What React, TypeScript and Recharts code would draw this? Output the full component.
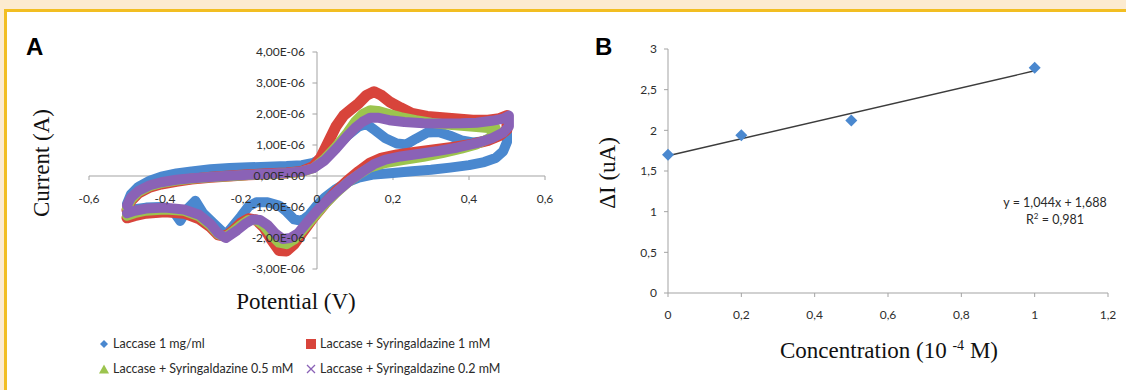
import React from 'react';
import {
  LineChart,
  Line,
  XAxis,
  YAxis,
  ReferenceLine,
  ReferenceDot,
  ComposedChart,
  Scatter,
} from 'recharts';

// ---- Panel A: cyclic voltammograms, [potential V, current in 1e-6 A] ----
const cvLaccase: [number, number][] = [
  [-0.5, -0.9], [-0.49, -0.6], [-0.47, -0.35], [-0.44, -0.15], [-0.41, -0.02], [-0.37, 0.08],
  [-0.33, 0.15], [-0.28, 0.22], [-0.23, 0.26], [-0.18, 0.28], [-0.13, 0.3], [-0.08, 0.32],
  [-0.04, 0.35], [-0.01, 0.42], [0.02, 0.62], [0.05, 0.95], [0.08, 1.3], [0.11, 1.6],
  [0.13, 1.68], [0.15, 1.5], [0.18, 1.22], [0.21, 1.05], [0.235, 1.02], [0.26, 1.2],
  [0.29, 1.4], [0.32, 1.42], [0.35, 1.3], [0.38, 1.15], [0.41, 1.08], [0.44, 1.12],
  [0.47, 1.25], [0.5, 1.45],
  [0.5, 1.1], [0.49, 0.8], [0.47, 0.58], [0.44, 0.45], [0.4, 0.35], [0.35, 0.27],
  [0.3, 0.2], [0.25, 0.15], [0.2, 0.1], [0.15, 0.05], [0.11, -0.05], [0.08, -0.2],
  [0.05, -0.42], [0.02, -0.7], [0.0, -0.95], [-0.02, -1.25], [-0.04, -1.45], [-0.06, -1.4],
  [-0.08, -1.15], [-0.1, -0.95], [-0.13, -0.85], [-0.16, -0.85], [-0.18, -0.98], [-0.2, -1.3],
  [-0.22, -1.6], [-0.24, -1.9], [-0.27, -1.55], [-0.3, -1.2], [-0.32, -0.8], [-0.34, -1.05],
  [-0.36, -1.45], [-0.38, -1.1], [-0.41, -1.0], [-0.45, -1.02], [-0.5, -1.1],
];

const cvSyr1: [number, number][] = [
  [-0.5, -1.1], [-0.49, -0.8], [-0.47, -0.55], [-0.44, -0.36], [-0.41, -0.26], [-0.37, -0.17],
  [-0.33, -0.1], [-0.28, -0.04], [-0.23, 0.0], [-0.18, 0.04], [-0.13, 0.07], [-0.08, 0.1],
  [-0.04, 0.15], [-0.01, 0.3], [0.01, 0.6], [0.03, 1.1], [0.05, 1.6], [0.07, 1.95],
  [0.09, 2.15], [0.11, 2.35], [0.13, 2.6], [0.15, 2.72], [0.17, 2.6], [0.19, 2.4],
  [0.22, 2.2], [0.25, 2.02], [0.29, 1.92], [0.33, 1.88], [0.37, 1.84], [0.41, 1.8],
  [0.45, 1.8], [0.48, 1.85], [0.5, 1.95],
  [0.5, 1.5], [0.48, 1.3], [0.45, 1.15], [0.41, 1.03], [0.36, 0.93], [0.31, 0.85],
  [0.26, 0.77], [0.21, 0.68], [0.17, 0.58], [0.14, 0.42], [0.11, 0.15], [0.08, -0.15],
  [0.05, -0.5], [0.02, -0.9], [-0.01, -1.35], [-0.04, -1.85], [-0.06, -2.2], [-0.08, -2.42],
  [-0.1, -2.4], [-0.12, -2.05], [-0.14, -1.65], [-0.16, -1.42], [-0.18, -1.38], [-0.2, -1.52],
  [-0.22, -1.75], [-0.24, -1.95], [-0.26, -1.9], [-0.28, -1.65], [-0.31, -1.38], [-0.35, -1.2],
  [-0.4, -1.15], [-0.45, -1.2], [-0.48, -1.28], [-0.5, -1.35],
];

const cvSyr05: [number, number][] = [
  [-0.5, -1.05], [-0.49, -0.78], [-0.47, -0.52], [-0.44, -0.33], [-0.41, -0.23], [-0.37, -0.15],
  [-0.33, -0.09], [-0.28, -0.04], [-0.23, -0.01], [-0.18, 0.03], [-0.13, 0.06], [-0.08, 0.09],
  [-0.04, 0.14], [-0.01, 0.25], [0.02, 0.55], [0.05, 0.95], [0.08, 1.4], [0.1, 1.75],
  [0.12, 2.0], [0.14, 2.12], [0.16, 2.1], [0.19, 2.0], [0.22, 1.9], [0.26, 1.8],
  [0.3, 1.72], [0.34, 1.66], [0.38, 1.62], [0.42, 1.58], [0.45, 1.55], [0.47, 1.55],
  [0.47, 1.4], [0.45, 1.2], [0.42, 1.02], [0.38, 0.88], [0.33, 0.74], [0.28, 0.62],
  [0.23, 0.52], [0.18, 0.42], [0.14, 0.28], [0.11, 0.05], [0.08, -0.22], [0.05, -0.55],
  [0.02, -0.92], [-0.01, -1.35], [-0.04, -1.78], [-0.06, -2.05], [-0.08, -2.2], [-0.1, -2.15],
  [-0.12, -1.9], [-0.14, -1.6], [-0.16, -1.42], [-0.18, -1.42], [-0.2, -1.58], [-0.22, -1.78],
  [-0.24, -1.97], [-0.26, -1.88], [-0.28, -1.6], [-0.31, -1.3], [-0.35, -1.12], [-0.4, -1.08],
  [-0.45, -1.12], [-0.48, -1.2], [-0.5, -1.28],
];

const cvSyr02: [number, number][] = [
  [-0.5, -0.95], [-0.49, -0.7], [-0.47, -0.48], [-0.44, -0.3], [-0.41, -0.2], [-0.37, -0.12],
  [-0.33, -0.07], [-0.28, -0.03], [-0.23, 0.01], [-0.18, 0.04], [-0.13, 0.07], [-0.08, 0.1],
  [-0.04, 0.15], [-0.01, 0.25], [0.02, 0.5], [0.05, 0.88], [0.08, 1.3], [0.1, 1.55],
  [0.12, 1.75], [0.14, 1.88], [0.16, 1.88], [0.19, 1.8], [0.23, 1.74], [0.28, 1.7],
  [0.33, 1.69], [0.38, 1.7], [0.42, 1.72], [0.46, 1.78], [0.49, 1.85], [0.505, 1.95],
  [0.505, 1.6], [0.49, 1.4], [0.46, 1.22], [0.42, 1.06], [0.37, 0.92], [0.32, 0.81],
  [0.27, 0.72], [0.22, 0.63], [0.18, 0.53], [0.15, 0.38], [0.12, 0.14], [0.09, -0.12],
  [0.06, -0.42], [0.03, -0.75], [0.0, -1.12], [-0.03, -1.55], [-0.05, -1.85], [-0.07, -2.0],
  [-0.09, -2.03], [-0.11, -1.85], [-0.13, -1.58], [-0.15, -1.42], [-0.17, -1.4], [-0.19, -1.55],
  [-0.21, -1.75], [-0.24, -2.0], [-0.26, -1.85], [-0.28, -1.55], [-0.31, -1.25], [-0.35, -1.08],
  [-0.4, -1.02], [-0.45, -1.05], [-0.48, -1.12], [-0.5, -1.2],
];

const potentialTicks = [-0.6, -0.4, -0.2, 0, 0.2, 0.4, 0.6];
const currentTicks = [-3, -2, -1, 0, 1, 2, 3, 4];
const currentTickLabels = ['-3,00E-06', '-2,00E-06', '-1,00E-06', '0,00E+00', '1,00E-06', '2,00E-06', '3,00E-06', '4,00E-06'];

// ---- Panel B: calibration ----
const concentrations = [0, 0.2, 0.5, 1];
const deltaI = [1.7, 1.94, 2.12, 2.77];
const trendX = [0, 1];
const trendY = [1.688, 2.732];
const concTicks = [0, 0.2, 0.4, 0.6, 0.8, 1, 1.2];
const deltaTicks = [0, 0.5, 1, 1.5, 2, 2.5, 3];

const BLUE = '#4a88cf';
const RED = '#d8443b';
const GREEN = '#9cc44e';
const PURPLE = '#8a62b6';
const AXIS = '#a3a3a3';
const TICK_TEXT = '#2e2e2e';
const SANS = 'Lato, "Open Sans", sans-serif';
const SERIF = '"Liberation Serif", "DejaVu Serif", serif';
const TICK_SIZE = 12;

const comma = (n: number) => String(n).replace('.', ',');
const toPts = (arr: [number, number][]) => arr.map(([v, i]) => ({ v, i }));

const cvSeries = [
  { name: 'Laccase 1 mg/ml', data: cvLaccase, color: BLUE, width: 10 },
  { name: 'Laccase + Syringaldazine 1 mM', data: cvSyr1, color: RED, width: 11 },
  { name: 'Laccase + Syringaldazine 0.5 mM', data: cvSyr05, color: GREEN, width: 10 },
  { name: 'Laccase + Syringaldazine 0.2 mM', data: cvSyr02, color: PURPLE, width: 10 },
];

function PanelA() {
  return (
    <LineChart width={560} height={280} margin={{ top: 52, right: 15, bottom: 11, left: 89 }}>
      <XAxis dataKey="v" type="number" domain={[-0.6, 0.6]} hide allowDuplicatedCategory={false} />
      <YAxis dataKey="i" type="number" domain={[-3, 4]} hide />
      <ReferenceLine y={0} stroke={AXIS} strokeWidth={1} />
      <ReferenceLine x={0} stroke={AXIS} strokeWidth={1} />
      {potentialTicks.map((t) => (
        <ReferenceLine key={'xt' + t} segment={[{ x: t, y: 0 }, { x: t, y: -0.13 }]} stroke={AXIS} />
      ))}
      {currentTicks.map((t) => (
        <ReferenceLine key={'yt' + t} segment={[{ x: 0, y: t }, { x: -0.012, y: t }]} stroke={AXIS} />
      ))}
      {cvSeries.map((s) => (
        <Line
          key={s.name}
          data={toPts(s.data)}
          dataKey="i"
          stroke={s.color}
          strokeWidth={s.width}
          strokeLinejoin="round"
          strokeLinecap="round"
          dot={false}
          type="linear"
          isAnimationActive={false}
        />
      ))}
      {potentialTicks.map((t) => (
        <ReferenceDot
          key={'xl' + t}
          x={t}
          y={0}
          r={0}
          fill="none"
          stroke="none"
          label={{ value: comma(t), position: 'bottom', offset: 18, fill: TICK_TEXT, fontSize: TICK_SIZE, fontFamily: SANS }}
        />
      ))}
      {currentTicks.map((t, k) => (
        <ReferenceDot
          key={'yl' + t}
          x={0}
          y={t}
          r={0}
          fill="none"
          stroke="none"
          label={{ value: currentTickLabels[k], position: 'left', offset: 12, fill: TICK_TEXT, fontSize: TICK_SIZE, fontFamily: SANS }}
        />
      ))}
    </LineChart>
  );
}

const Diamond = (props: any) => {
  const { cx, cy } = props;
  if (cx == null || cy == null) return null;
  const r = 6;
  return <polygon points={`${cx},${cy - r} ${cx + r},${cy} ${cx},${cy + r} ${cx - r},${cy}`} fill={BLUE} />;
};

function PanelB() {
  const points = concentrations.map((x, k) => ({ x, y: deltaI[k] }));
  const trend = trendX.map((x, k) => ({ x, y: trendY[k] }));
  return (
    <ComposedChart width={566} height={340} margin={{ top: 49, right: 18, bottom: 17, left: 78 }}>
      <XAxis
        dataKey="x"
        type="number"
        domain={[0, 1.2]}
        ticks={concTicks}
        tickFormatter={comma}
        stroke={AXIS}
        tickSize={4}
        tickMargin={13}
        height={30}
        tick={{ fill: TICK_TEXT, fontSize: TICK_SIZE, fontFamily: SANS }}
      />
      <YAxis
        dataKey="y"
        type="number"
        domain={[0, 3]}
        ticks={deltaTicks}
        tickFormatter={comma}
        stroke={AXIS}
        tickSize={4}
        tickMargin={7}
        width={30}
        tick={{ fill: TICK_TEXT, fontSize: TICK_SIZE, fontFamily: SANS }}
      />
      <Line data={trend} dataKey="y" stroke="#3c3c3c" strokeWidth={1.4} dot={false} isAnimationActive={false} />
      <Scatter data={points} dataKey="y" shape={Diamond} isAnimationActive={false} />
    </ComposedChart>
  );
}

const LegendItem = ({ marker, text, left, top }: { marker: React.ReactNode; text: string; left: number; top: number }) => (
  <div style={{ position: 'absolute', left, top, display: 'flex', alignItems: 'center', fontFamily: SANS, fontSize: 12.5, color: '#2a2a2a', whiteSpace: 'nowrap', lineHeight: '15px' }}>
    <svg width={12} height={12} style={{ marginRight: 3 }}>{marker}</svg>
    {text}
  </div>
);

export default function App() {
  return (
    <div style={{ position: 'fixed', left: 0, top: 0, width: 1126, height: 390, background: '#fcebd0', overflow: 'hidden' }}>
      <div style={{ position: 'absolute', left: 4, top: 9, width: 1200, height: 400, background: '#fff', borderTop: '3px solid #f2be22', borderLeft: '3px solid #f2be22' }} />
      <div style={{ position: 'absolute', left: 0, top: 0 }}>
        <PanelA />
      </div>
      <div style={{ position: 'absolute', left: 560, top: 0 }}>
        <PanelB />
      </div>

      <div style={{ position: 'absolute', left: 26, top: 33, fontFamily: '"Liberation Sans", Arial, sans-serif', fontWeight: 700, fontSize: 24 }}>A</div>
      <div style={{ position: 'absolute', left: 595, top: 33, fontFamily: '"Liberation Sans", Arial, sans-serif', fontWeight: 700, fontSize: 24 }}>B</div>

      <div style={{ position: 'absolute', left: 42, top: 163, transform: 'translate(-50%, -50%) rotate(-90deg)', fontFamily: SERIF, fontSize: 23, whiteSpace: 'nowrap', color: '#111' }}>Current (A)</div>
      <div style={{ position: 'absolute', left: 296, top: 302, transform: 'translate(-50%, -50%)', fontFamily: SERIF, fontSize: 23, whiteSpace: 'nowrap', color: '#111' }}>Potential (V)</div>
      <div style={{ position: 'absolute', left: 608, top: 173, transform: 'translate(-50%, -50%) rotate(-90deg)', fontFamily: SERIF, fontSize: 23, whiteSpace: 'nowrap', color: '#111' }}>ΔI (uA)</div>
      <div style={{ position: 'absolute', left: 889, top: 351, transform: 'translate(-50%, -50%)', fontFamily: SERIF, fontSize: 23, whiteSpace: 'nowrap', color: '#111' }}>
        Concentration (10 <sup style={{ fontSize: 14 }}>-4</sup> M)
      </div>

      <div style={{ position: 'absolute', left: 1055, top: 202, transform: 'translate(-50%, -50%)', fontFamily: SANS, fontSize: 12.5, color: '#2a2a2a', whiteSpace: 'nowrap' }}>y = 1,044x + 1,688</div>
      <div style={{ position: 'absolute', left: 1055, top: 219, transform: 'translate(-50%, -50%)', fontFamily: SANS, fontSize: 12.5, color: '#2a2a2a', whiteSpace: 'nowrap' }}>
        R<sup style={{ fontSize: 8 }}>2</sup> = 0,981
      </div>

      <LegendItem left={98} top={336} text="Laccase 1 mg/ml" marker={<polygon points="6,2 10,6 6,10 2,6" fill={BLUE} />} />
      <LegendItem left={305} top={336} text="Laccase + Syringaldazine 1 mM" marker={<rect x={1} y={1} width={10} height={10} fill={RED} />} />
      <LegendItem left={98} top={361} text="Laccase + Syringaldazine 0.5 mM" marker={<polygon points="6,1.5 11,10.5 1,10.5" fill={GREEN} />} />
      <LegendItem left={305} top={361} text="Laccase + Syringaldazine 0.2 mM" marker={<path d="M2,2 L10,10 M10,2 L2,10" stroke={PURPLE} strokeWidth={1.3} />} />
    </div>
  );
}
